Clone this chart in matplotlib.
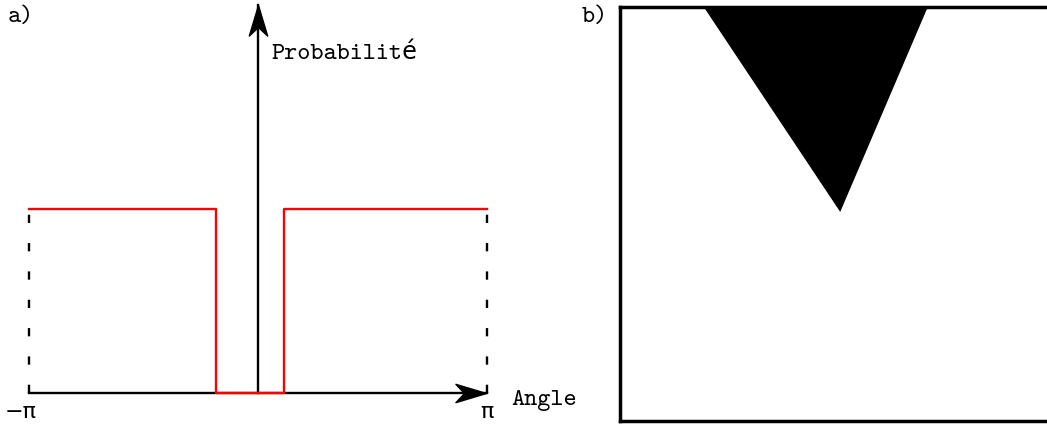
import matplotlib.pyplot as plt
import numpy as np
from matplotlib.path import Path

# panel a): probability vs angle (step function)
angle_edges = [-np.pi, -0.57, -0.57, 0.36, 0.36, np.pi]
prob_values = [1.0, 1.0, 0.0, 0.0, 1.0, 1.0]
y_top = 2.11

# panel b): black triangle in the white box (fractions of the box, y from bottom)
tri_x = [0.197, 0.724, 0.518]
tri_y = [1.0, 1.0, 0.505]

W, H = 1047, 426
fig = plt.figure(figsize=(W / 100, H / 100), dpi=100)
mono = ['cmtt10', 'DejaVu Sans Mono']

# ---- panel a
ax1 = fig.add_axes([29 / W, 33 / H, 458 / W, 388 / H])
ax1.set_xlim(-np.pi, np.pi)
ax1.set_ylim(0, y_top)
ax1.axis('off')

ax1.plot([-np.pi, np.pi], [0, 0], color='black', lw=1.7, clip_on=False, zorder=2)
ax1.plot([0, 0], [0, y_top], color='black', lw=1.7, clip_on=False, zorder=2)

head_h = Path([(0, 0), (-1, 0.3), (-0.72, 0), (-1, -0.3), (0, 0)],
              [Path.MOVETO, Path.LINETO, Path.LINETO, Path.LINETO, Path.CLOSEPOLY])
head_v = Path([(0, 0), (0.3, -1), (0, -0.72), (-0.3, -1), (0, 0)],
              [Path.MOVETO, Path.LINETO, Path.LINETO, Path.LINETO, Path.CLOSEPOLY])
ax1.plot([np.pi - 0.02], [0], marker=head_h, markersize=44, color='black',
         mec='black', clip_on=False, zorder=4)
ax1.plot([0], [y_top], marker=head_v, markersize=44, color='black',
         mec='black', clip_on=False, zorder=4)

for xe in [-np.pi, np.pi]:
    ax1.plot([xe, xe], [0, 1], color='black', lw=1.7, ls=(0, (3.5, 8.5)),
             clip_on=False, zorder=1)

ax1.plot(angle_edges, prob_values, color='red', lw=1.7, clip_on=False, zorder=3)

ax1.text(-np.pi - 0.11, -0.05, '\u2212\u03c0', ha='center', va='top', fontsize=16,
         family='DejaVu Sans')
ax1.text(np.pi, -0.05, '\u03c0', ha='center', va='top', fontsize=16,
         family='DejaVu Sans')
ax1.text(np.pi + 0.33, -0.04, 'Angle', ha='left', va='center', fontsize=18, family=mono)
ax1.text(0.18, 1.84, 'Probabilité', ha='left', va='center', fontsize=18, family=mono)

fig.text(8 / W, 1 - 18 / H, 'a)', ha='left', va='center', fontsize=18, family=mono)
fig.text(582 / W, 1 - 18 / H, 'b)', ha='left', va='center', fontsize=18, family=mono)

# ---- panel b
ax2 = fig.add_axes([620 / W, 5 / H, 440 / W, 414 / H])
ax2.set_xlim(0, 1.035)
ax2.set_ylim(0, 1)
ax2.set_xticks([])
ax2.set_yticks([])
for s in ax2.spines.values():
    s.set_linewidth(2.5)
    s.set_color('black')
ax2.fill(tri_x, tri_y, color='black', lw=0)

fig.savefig('out.png', dpi=100)
